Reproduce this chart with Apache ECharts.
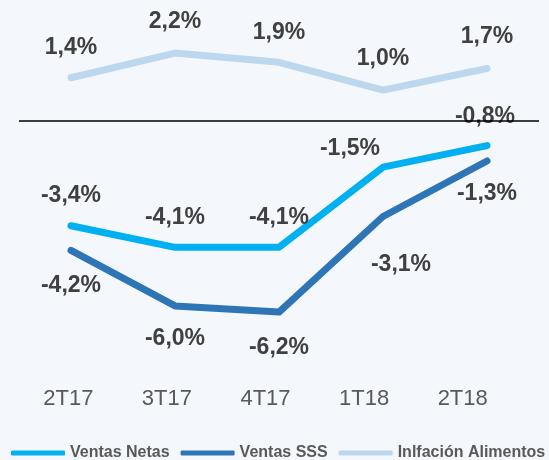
<!DOCTYPE html>
<html>
<head>
<meta charset="utf-8">
<script src="https://cdn.jsdelivr.net/npm/echarts@6/dist/echarts.min.js"></script>
<style>
  html, body { margin: 0; padding: 0; background: #F4F8FC; }
  #chart { width: 549px; height: 460px; }
</style>
</head>
<body>
<div id="chart"></div>
<script>
var categories = ['2T17', '3T17', '4T17', '1T18', '2T18'];
var ventasNetas = [-3.4, -4.1, -4.1, -1.5, -0.8];
var ventasSSS = [-4.2, -6.0, -6.2, -3.1, -1.3];
var inflacion = [1.4, 2.2, 1.9, 1.0, 1.7];

// desplazamiento de etiquetas [dx, dy] respecto al punto
var offNetas = [[0, -30], [0, -30], [0, -30], [-33, -19], [-2, -29]];
var offSSS = [[0, 35], [0, 33], [0, 36], [18, 48], [0, 33]];
var offInfl = [[0, -30], [0, -31], [0, -30], [0, -31], [0, -32]];

var fuente = 'Liberation Sans, Arial, sans-serif';

function fmt(v) {
  return v.toFixed(1).replace('.', ',') + '%';
}

function puntos(vals, offs) {
  var out = [];
  for (var i = 0; i < vals.length; i++) {
    out.push({ value: vals[i], label: { offset: offs[i] } });
  }
  return out;
}

function serie(name, color, vals, offs) {
  return {
    name: name,
    type: 'line',
    xAxisIndex: 0,
    yAxisIndex: 0,
    symbol: 'circle',
    symbolSize: 1,
    itemStyle: { color: color },
    lineStyle: { color: color, width: 7, cap: 'round', join: 'round' },
    label: {
      show: true,
      position: 'inside',
      formatter: function (p) { return fmt(p.value); },
      color: '#404040',
      fontSize: 23,
      fontWeight: 'bold',
      fontFamily: fuente
    },
    data: puntos(vals, offs)
  };
}

var myChart = echarts.init(document.getElementById('chart'));
var sInfl = serie('Inlfación Alimentos', '#BDD7EE', inflacion, offInfl);
sInfl.markLine = {
  silent: true,
  symbol: 'none',
  label: { show: false },
  lineStyle: { color: '#000', width: 1.5, type: 'solid' },
  data: [{ yAxis: 0 }]
};

myChart.setOption({
  animation: false,
  backgroundColor: '#F4F8FC',
  grid: [
    { left: 19, right: 10, top: 13, bottom: 77 },
    { left: 19, right: 37, top: 13, bottom: 77 }
  ],
  legend: {
    top: 445,
    left: 11,
    width: 560,
    padding: 0,
    itemGap: 11,
    itemWidth: 54,
    itemHeight: 5,
    icon: 'roundRect',
    textStyle: {
      color: '#595959',
      fontSize: 16,
      fontWeight: 'bold',
      fontFamily: fuente
    },
    data: ['Ventas Netas', 'Ventas SSS', 'Inlfación Alimentos']
  },
  xAxis: [
    {
      type: 'category',
      gridIndex: 0,
      data: categories,
      show: false
    },
    {
      type: 'category',
      gridIndex: 1,
      data: categories,
      axisLine: { show: false },
      axisTick: { show: false },
      axisLabel: {
        color: '#595959',
        fontSize: 22,
        margin: 5,
        fontFamily: fuente
      }
    }
  ],
  yAxis: [
    { type: 'value', gridIndex: 0, min: -8.5, max: 3.5, show: false },
    { type: 'value', gridIndex: 1, min: -8.5, max: 3.5, show: false }
  ],
  series: [
    sInfl,
    serie('Ventas SSS', '#2E75B6', ventasSSS, offSSS),
    serie('Ventas Netas', '#00B0F0', ventasNetas, offNetas)
  ]
});
</script>
</body>
</html>
